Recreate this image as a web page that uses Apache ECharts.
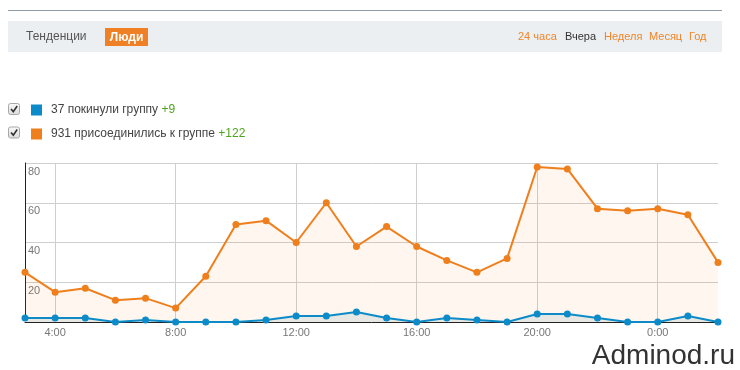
<!DOCTYPE html>
<html>
<head>
<meta charset="utf-8">
<script src="https://cdn.jsdelivr.net/npm/echarts@6/dist/echarts.min.js"></script>
<style>
html,body{margin:0;padding:0;background:#fff;}
#chart{width:740px;height:370px;}
</style>
</head>
<body>
<div id="chart"></div>
<script>
const hours = ['3:00','4:00','5:00','6:00','7:00','8:00','9:00','10:00','11:00','12:00','13:00','14:00','15:00','16:00','17:00','18:00','19:00','20:00','21:00','22:00','23:00','0:00','1:00','2:00'];
const leftValues = [2,2,2,0,1,0,0,0,1,3,3,5,2,0,2,1,0,4,4,2,0,0,3,0];
const joinedValues = [25,15,17,11,12,7,23,49,51,40,60,38,48,38,31,25,32,78,77,57,56,57,54,30];
const leftName = 'покинули группу';
const joinedName = 'присоединились к группе';
const leftTotal = 37, leftDelta = '+9';
const joinedTotal = 931, joinedDelta = '+122';
const yTicks = [0,20,40,60,80];
const tabs = ['Тенденции','Люди'];
const periods = ['24 часа','Вчера','Неделя','Месяц','Год'];

const FONT = 'Arial, "Liberation Sans", sans-serif';
const ORANGE = '#ef7f1c';
const BLUE = '#0d8bc9';
const labelShow = (i) => (i - 1) % 4 === 0;

const periodX = [518, 565, 604, 649, 689];

const graphics = [
  {type:'line', shape:{x1:8,y1:10.5,x2:722,y2:10.5}, style:{stroke:'#8f9ba3',lineWidth:1}, silent:true},
  {type:'rect', shape:{x:8,y:21,width:714,height:31}, style:{fill:'#ebeff1'}, silent:true},
  {type:'text', x:26, y:37, style:{text:tabs[0], fill:'#555', font:'12px ' + FONT, verticalAlign:'middle'}},
  {type:'rect', shape:{x:105,y:28,width:43,height:18}, style:{fill:'#ef8026'}},
  {type:'text', x:126.5, y:37.5, style:{text:tabs[1], fill:'#fff', font:'bold 12px ' + FONT, align:'center', verticalAlign:'middle'}}
];
periods.forEach((p, i) => {
  graphics.push({type:'text', x:periodX[i], y:37, style:{text:p, fill: i === 1 ? '#333' : '#f0862a', font:'11px ' + FONT, verticalAlign:'middle'}});
});
[109, 132.5].forEach((cy) => {
  graphics.push({type:'rect', shape:{x:8.5,y:cy-5.5,width:11,height:11,r:2},
    style:{fill:{type:'linear',x:0,y:0,x2:0,y2:1,colorStops:[{offset:0,color:'#fafafa'},{offset:1,color:'#dcdcdc'}]}, stroke:'#a8a8a8', lineWidth:1}});
  graphics.push({type:'polyline', shape:{points:[[11,cy],[13.3,cy+2.6],[17.2,cy-3]]}, style:{stroke:'#333',lineWidth:1.6,fill:null}});
});
graphics.push({type:'text', x:735, y:356, style:{text:'Adminod.ru', fill:'#333', font:'28px ' + FONT, align:'right', verticalAlign:'middle'}});

const chart = echarts.init(document.getElementById('chart'), null, {renderer:'canvas'});
chart.setOption({
  animation:false,
  textStyle:{fontFamily:FONT},
  graphic:graphics,
  legend:{
    orient:'vertical', left:31, top:104, padding:0, itemWidth:11, itemHeight:11, itemGap:12, icon:'rect',
    selectedMode:false,
    data:[{name:leftName, itemStyle:{color:BLUE}}, {name:joinedName, itemStyle:{color:ORANGE}}],
    formatter:(name) => name === leftName
      ? '{t|' + leftTotal + ' ' + leftName + '} {g|' + leftDelta + '}'
      : '{t|' + joinedTotal + ' ' + joinedName + '} {g|' + joinedDelta + '}',
    textStyle:{padding:[0,0,0,4], rich:{t:{color:'#444',fontSize:12,fontFamily:FONT,lineHeight:14},g:{color:'#4ea51d',fontSize:12,fontFamily:FONT,lineHeight:14}}}
  },
  grid:{left:25, right:22, top:163, bottom:48, containLabel:false},
  xAxis:{
    type:'category', data:hours, boundaryGap:false,
    axisLine:{lineStyle:{color:'#222',width:1}},
    axisTick:{show:false},
    axisLabel:{interval:(i) => labelShow(i), color:'#777', fontSize:11, margin:5},
    splitLine:{show:true, interval:(i) => labelShow(i), lineStyle:{color:'#cfcfcf',width:1}}
  },
  yAxis:{
    type:'value', min:yTicks[0], max:yTicks[yTicks.length-1], interval:20,
    axisLine:{show:true, lineStyle:{color:'#222',width:1}},
    axisTick:{show:false},
    axisLabel:{inside:true, margin:3, color:'#777', fontSize:11, verticalAlign:'top', padding:[3,0,0,0],
      showMinLabel:false, hideOverlap:false},
    splitLine:{lineStyle:{color:'#cfcfcf',width:1}}
  },
  series:[
    {name:joinedName, type:'line', data:joinedValues, color:ORANGE, symbol:'circle', symbolSize:7,
      lineStyle:{width:2, color:ORANGE}, itemStyle:{color:ORANGE},
      areaStyle:{color:'rgba(239,127,28,0.1)'}, z:2},
    {name:leftName, type:'line', data:leftValues, color:BLUE, symbol:'circle', symbolSize:7,
      lineStyle:{width:2, color:BLUE}, itemStyle:{color:BLUE},
      areaStyle:{color:'#e7e8e4', opacity:1}, z:3}
  ]
});
</script>
</body>
</html>
